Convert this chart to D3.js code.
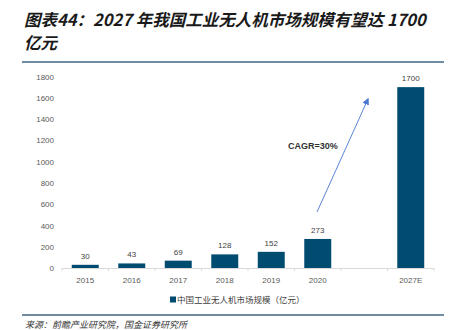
<!DOCTYPE html>
<html>
<head>
<meta charset="utf-8">
<script src="https://cdn.jsdelivr.net/npm/d3@7"></script>
<style>
  html, body { margin: 0; padding: 0; background: #fff; }
  svg { display: block; }
</style>
</head>
<body>
<svg id="chart" width="453" height="330"></svg>
<script>
// Market size of industrial drones in China (100 million yuan)
const categories = ["2015", "2016", "2017", "2018", "2019", "2020", "", "2027E"];
const values = [30, 43, 69, 128, 152, 273, null, 1700];
const yTicks = [0, 200, 400, 600, 800, 1000, 1200, 1400, 1600, 1800];
const seriesName = "中国工业无人机市场规模（亿元）";
const titleLines = ["图表44：2027 年我国工业无人机市场规模有望达 1700", "亿元"];
const sourceText = "来源：前瞻产业研究院，国金证券研究所";
const cagrLabel = "CAGR=30%";

const svg = d3.select("#chart");
const labelFont = "'Liberation Sans', Arial, sans-serif";
const cjkFont = "'Noto Sans CJK SC', 'Noto Sans', sans-serif";

// Title
svg.selectAll("text.title").data(titleLines).join("text")
  .attr("class", "title")
  .attr("x", 24)
  .attr("y", (d, i) => 26 + i * 23)
  .attr("font-family", cjkFont)
  .attr("font-size", 16.5)
  .attr("font-weight", "bold")
  .attr("font-style", "italic")
  .attr("fill", "#1a1a1a")
  .text(d => d);

// Rules above and below the chart body
svg.append("line").attr("x1", 22).attr("x2", 444).attr("y1", 62).attr("y2", 62)
  .attr("stroke", "#3f6683").attr("stroke-width", 1.3);
svg.append("line").attr("x1", 22).attr("x2", 444).attr("y1", 315).attr("y2", 315)
  .attr("stroke", "#3f6683").attr("stroke-width", 1.3);

// Scales
const x = d3.scaleBand().domain(categories).range([62, 434]).paddingInner(0.42).paddingOuter(0.21);
const y = d3.scaleLinear().domain([0, 1800]).range([268, 76.5]);

// Y axis labels
const yAxis = d3.axisLeft(y).tickValues(yTicks).tickFormat(d3.format("d")).tickSize(0).tickPadding(0);
const gy = svg.append("g").attr("transform", "translate(54,0)").call(yAxis);
gy.select(".domain").remove();
gy.selectAll("text").attr("font-family", labelFont).attr("font-size", 8).attr("fill", "#595959");

// X axis baseline with separators between bands
const step = x.step();
const x0 = x.range()[0];
svg.append("line").attr("x1", x0).attr("x2", x.range()[1]).attr("y1", y(0) + 0.5).attr("y2", y(0) + 0.5)
  .attr("stroke", "#d9d9d9").attr("stroke-width", 1);
svg.selectAll("line.sep").data(d3.range(categories.length + 1)).join("line")
  .attr("class", "sep")
  .attr("x1", i => x0 + i * step).attr("x2", i => x0 + i * step)
  .attr("y1", y(0)).attr("y2", y(0) + 3)
  .attr("stroke", "#d9d9d9");

// Category labels
svg.selectAll("text.cat").data(categories).join("text")
  .attr("class", "cat")
  .attr("x", d => x(d) + x.bandwidth() / 2)
  .attr("y", 283)
  .attr("text-anchor", "middle")
  .attr("font-family", labelFont).attr("font-size", 8).attr("fill", "#595959")
  .text(d => d);

// Bars
const data = categories.map((c, i) => ({ c, v: values[i] })).filter(d => d.v != null);
svg.selectAll("rect.bar").data(data).join("rect")
  .attr("class", "bar")
  .attr("x", d => x(d.c))
  .attr("width", x.bandwidth())
  .attr("y", d => y(d.v))
  .attr("height", d => y(0) - y(d.v))
  .attr("fill", "#004b70");

// Value labels
svg.selectAll("text.val").data(data).join("text")
  .attr("class", "val")
  .attr("x", d => x(d.c) + x.bandwidth() / 2)
  .attr("y", d => y(d.v) - 6)
  .attr("text-anchor", "middle")
  .attr("font-family", labelFont).attr("font-size", 8).attr("fill", "#404040")
  .text(d => d.v);

// Growth arrow
const defs = svg.append("defs");
defs.append("marker").attr("id", "arrowHead")
  .attr("viewBox", "0 0 10 10").attr("refX", 8).attr("refY", 5)
  .attr("markerWidth", 7).attr("markerHeight", 7).attr("orient", "auto")
  .attr("markerUnits", "userSpaceOnUse")
  .append("path").attr("d", "M0,0 L10,5 L0,10 z").attr("fill", "#4a76cf");
svg.append("line")
  .attr("x1", 317).attr("y1", 212).attr("x2", 368).attr("y2", 99)
  .attr("stroke", "#5b84d8").attr("stroke-width", 1)
  .attr("marker-end", "url(#arrowHead)");

svg.append("text")
  .attr("x", 288).attr("y", 149)
  .attr("font-family", labelFont).attr("font-size", 9).attr("font-weight", "bold")
  .attr("fill", "#333")
  .text(cagrLabel);

// Legend
const legend = svg.append("g").attr("transform", "translate(170,300)");
legend.append("rect").attr("x", 0).attr("y", -3.5).attr("width", 6).attr("height", 6).attr("fill", "#004b70");
legend.append("text").attr("x", 7).attr("y", 3)
  .attr("font-family", cjkFont).attr("font-size", 8.5).attr("fill", "#404040")
  .text(seriesName);

// Source note
svg.append("text")
  .attr("x", 25).attr("y", 328)
  .attr("font-family", cjkFont).attr("font-size", 9).attr("font-style", "italic")
  .attr("fill", "#333")
  .text(sourceText);
</script>
</body>
</html>
